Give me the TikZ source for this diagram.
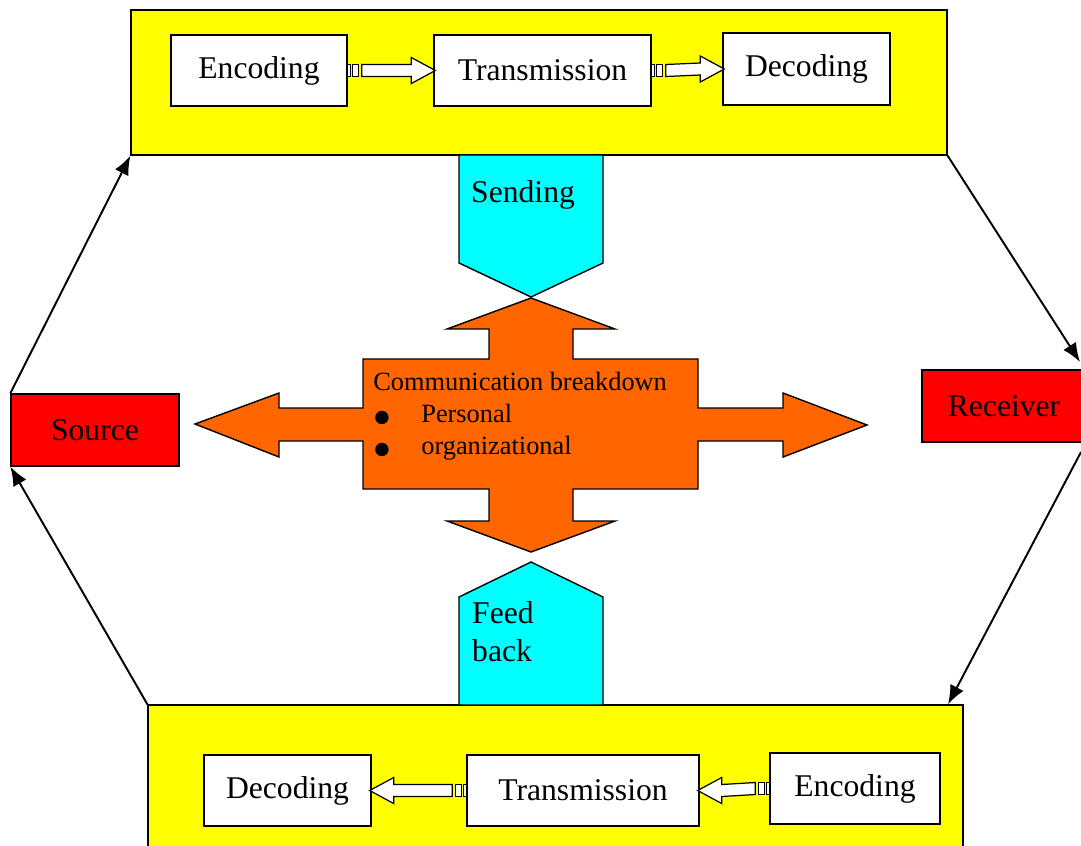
\documentclass[tikz,border=0pt]{standalone}
\usepackage{fontspec}
\setmainfont{Liberation Serif}
\newfontfamily\symfont{DejaVu Sans}
\usepackage{tikz}
\usetikzlibrary{arrows,arrows.meta,calc,positioning}
\definecolor{bandyellow}{RGB}{255,255,0}
\definecolor{chancyan}{RGB}{0,255,255}
\definecolor{breakorange}{RGB}{255,102,0}
\definecolor{partyred}{RGB}{255,0,0}
\tikzset{%
	band/.style     = {draw, line width=0.8pt, fill=bandyellow, minimum width=16.32cm, minimum height=2.9cm},
	stage/.style    = {draw, line width=0.8pt, fill=white, minimum height=1.42cm, font=\fontsize{18}{21.6}\selectfont},
	party/.style    = {draw, line width=0.8pt, fill=partyred, minimum width=3.36cm, minimum height=1.44cm, font=\fontsize{18}{21.6}\selectfont},
	channel/.style  = {draw, line width=0.8pt, fill=chancyan},
	breakdown/.style= {draw, line width=0.8pt, fill=breakorange},
	strip/.style    = {draw, line width=0.7pt, fill=white},
	link/.style     = {line width=1.1pt, -{Latex[length=0.38cm,width=0.3cm]}},
}
% striped block arrow: from anchor, to anchor, direction (1 right, -1 left)
\newcommand{\stripearrow}[3]{%
	\draw[strip] ($(#1)+({0*(#3)},-6)$) rectangle ($(#1)+({3*(#3)},6)$);
	\draw[strip] ($(#1)+({5*(#3)},-6)$) rectangle ($(#1)+({11*(#3)},6)$);
	\draw[strip] ($(#1)+({14*(#3)},-6)$) -- ($(#2)+({-22*(#3)},-6)$) -- ($(#2)+({-22*(#3)},-13)$)
		-- ($(#2)+({2*(#3)},0)$) -- ($(#2)+({-22*(#3)},13)$) -- ($(#2)+({-22*(#3)},6)$)
		-- ($(#1)+({14*(#3)},6)$) -- cycle;
}
\newcommand{\bigbullet}{\makebox[0.96cm][l]{\hspace{0.02cm}{\symfont\fontsize{10}{10}\selectfont ●}}}

\begin{document}
\begin{tikzpicture}[x=0.02cm,y=-0.02cm]
		\useasboundingbox (0,0) rectangle (1081,845);
		\clip (0,0) rectangle (1081,845);
		
		\node[band] (topband) at (539,82.5) {};
		\node[band, minimum width=16.3cm, minimum height=3.1cm] (botband) at (555.5,782.5) {};
		
		\node[stage, minimum width=3.52cm] (enc1) at (259,70.5) {Encoding};
		\node[stage, minimum width=4.34cm] (tr1) at (542.5,70.5) {Transmission};
		\node[stage, minimum width=3.34cm, minimum height=1.44cm] (dec1) at (806.5,69) {Decoding};
		
		\node[stage, minimum width=3.34cm] (dec2) at (287.5,790.5) {Decoding};
		\node[stage, minimum width=4.64cm] (tr2) at (583,790.5) {Transmission};
		\node[stage, minimum width=3.4cm] (enc2) at (855,788.5) {Encoding};
		
		\node[party] (src) at (95,430) {Source};
		\node[party, minimum width=3.28cm] (rcv) at (1004,406) {Receiver};
		
		\draw[channel] (459,155) -- (459,263) -- (531,297) -- (603,263) -- (603,155) -- cycle;
		\draw[channel] (459,705) -- (459,597) -- (531,562) -- (603,597) -- (603,705) -- cycle;
		\node[anchor=west, font=\fontsize{18}{21.6}\selectfont] (send) at (465,195) {Sending};
		\node[anchor=north west, align=left, font=\fontsize{18}{21.6}\selectfont] (feed) at (466,595) {Feed\\back};
		
		\draw[breakdown] (363,359) -- (489,359) -- (489,329) -- (447,329) -- (531,298) -- (615,329) -- (573,329) -- (573,359)
			-- (698,359) -- (698,408) -- (783,408) -- (783,393) -- (867,425) -- (783,457) -- (783,441) -- (698,441)
			-- (698,489) -- (573,489) -- (573,521) -- (615,521) -- (531,552) -- (447,521) -- (489,521) -- (489,489)
			-- (363,489) -- (363,441) -- (279,441) -- (279,457) -- (195,424) -- (279,393) -- (279,408) -- (363,408) -- cycle;
		\node[anchor=north west, align=left, inner sep=0pt, font=\fontsize{15}{17.2}\selectfont] (issues) at (373,372)
			{Communication breakdown\\[1pt]
			 \bigbullet Personal\\[1pt]
			 \bigbullet organizational};
		
		\coordinate (rcvin) at (1080,362);
		\coordinate (rcvout) at (1081,452);
		\draw[link] (src.north west) -- (topband.south west);
		\draw[link] (topband.south east) -- (rcvin);
		\draw[link] (rcvout) -- (botband.north east -| 948,0);
		\draw[link] (botband.north west) -- (src.south west);
		
		\stripearrow{enc1.east}{tr1.west}{1}
		\stripearrow{tr1.east}{dec1.west}{1}
		\stripearrow{enc2.west}{tr2.east}{-1}
		\stripearrow{tr2.west}{dec2.east}{-1}
		
		\end{tikzpicture}
\end{document}
